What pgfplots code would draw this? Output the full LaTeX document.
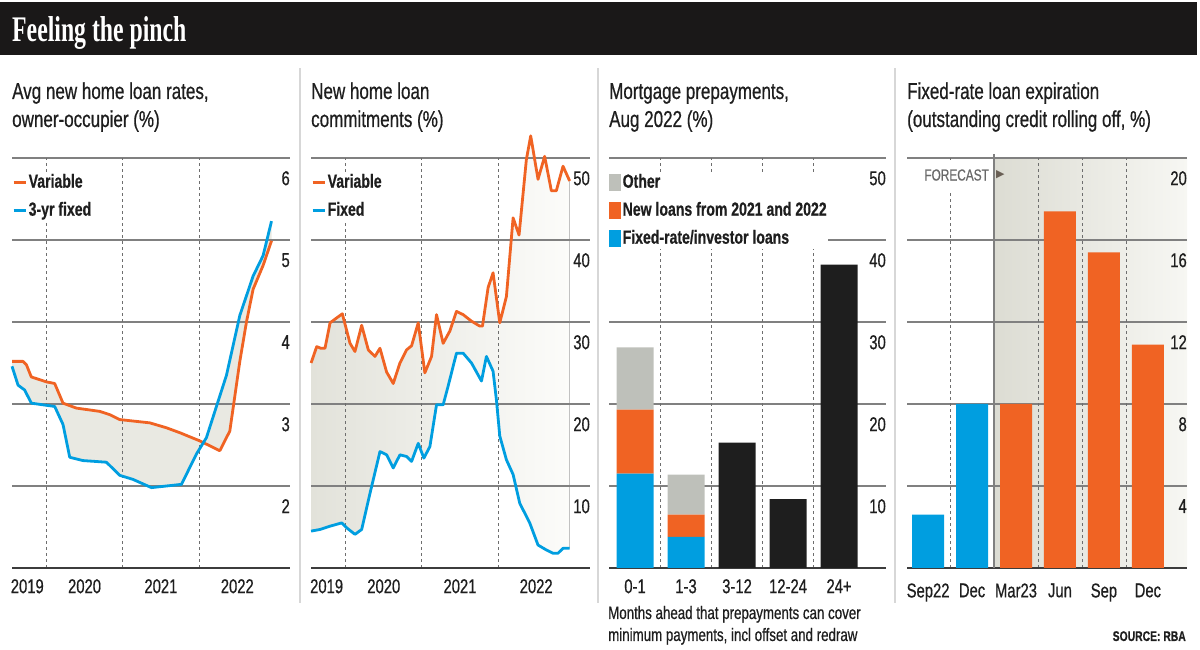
\documentclass[border=0pt]{standalone}
\usepackage{fontspec}
\setmainfont{Liberation Sans}[FakeStretch=0.74, FakeBold=0.6]
\newfontfamily\titlefont{Liberation Serif}[FakeStretch=0.66]
\newfontfamily\symbolfont{DejaVu Sans}
\usepackage{pgfplots}
\pgfplotsset{compat=1.18}
\usepgfplotslibrary{fillbetween}

\definecolor{varorange}{RGB}{240,99,35}
\definecolor{fixblue}{RGB}{0,158,224}
\definecolor{othergray}{RGB}{190,192,186}
\definecolor{barblack}{RGB}{30,30,30}
\definecolor{gridgray}{RGB}{128,128,128}
\definecolor{axisdark}{RGB}{60,60,60}
\definecolor{dashgray}{RGB}{110,110,110}
\definecolor{fillbeige}{RGB}{233,233,226}
\definecolor{fillleft}{RGB}{226,226,218}
\definecolor{fillright}{RGB}{252,252,250}
\definecolor{fcleft}{RGB}{220,220,211}
\definecolor{fcright}{RGB}{247,247,243}
\definecolor{sepgray}{RGB}{215,215,215}
\definecolor{headblack}{RGB}{26,24,24}
\definecolor{textdark}{RGB}{30,30,30}
\definecolor{fcgray}{RGB}{105,105,105}
\definecolor{fcarrow}{RGB}{105,95,85}

\newcommand\ticksize{\fontsize{20}{22}\selectfont}
\newcommand\legsize{\fontsize{19}{21}\selectfont\bfseries}
\newcommand\headsize{\fontsize{23}{28}\selectfont}

\pgfplotsset{
  panel/.style={
    scale only axis, anchor=south west, height=410pt,
    clip=false, set layers,
    axis line style={draw=none},
    tick style={draw=none},
    ymajorgrids, xmajorgrids=false,
    major grid style={gridgray, line width=2.6pt},
    /pgf/number format/assume math mode=true,
    yticklabel pos=right,
    yticklabel style={anchor=north east, inner sep=0pt, yshift=-13pt,
      font=\ticksize, text=textdark},
    xticklabel style={anchor=north, inner sep=0pt, yshift=-11pt,
      font=\ticksize, text=textdark},
    extra y tick labels={},
    extra y tick style={major grid style={axisdark, line width=2.8pt}},
    extra x tick labels={},
    extra x tick style={xmajorgrids=true,
      major grid style={dashgray, line width=0.8pt, dash pattern=on 3pt off 3pt}},
    legend cell align=left,
    legend style={at={(0,1)}, anchor=north west, yshift=-14pt,
      draw=none, fill=white, inner sep=0pt, row sep=7pt,
      font=\legsize, text=textdark,
      nodes={inner sep=1.5pt, text height=14pt, text depth=4pt}},
  },
  linelegend/.style={legend image code/.code={
      \draw[##1, line width=3pt] (0pt,0pt) -- (12pt,0pt);}},
  boxlegend/.style={legend image code/.code={
      \fill[##1] (0pt,-8pt) rectangle (12pt,9pt);}},
}

\begin{document}
\begin{tikzpicture}
\begin{scope}[x=1pt,y=1pt]
\path (0,0) rectangle (1200,650);

% header band
\fill[headblack] (0,595) rectangle (1197,648);
\node[anchor=base west, inner sep=0pt, text=white,
  font=\titlefont\bfseries\fontsize{36}{36}\selectfont] at (12,608) {Feeling the pinch};

% panel separators
\foreach \sx in {300,598,895}
  \draw[sepgray, line width=1.5pt] (\sx,47) -- (\sx,582);

% panel headings
\begin{scope}[every node/.style={anchor=base west, inner sep=0pt, text=textdark, font=\headsize}]
\node at (12,551) {Avg new home loan rates,};
\node at (12,523) {owner-occupier (\%)};
\node at (311,551) {New home loan};
\node at (311,523) {commitments (\%)};
\node at (609,551) {Mortgage prepayments,};
\node at (609,523) {Aug 2022 (\%)};
\node at (907,551) {Fixed-rate loan expiration};
\node at (907,523) {(outstanding credit rolling off, \%)};
\end{scope}

% caption and source
\node[anchor=base west, inner sep=0pt, text=textdark, font=\fontsize{18}{22}\selectfont]
  at (608,31) {Months ahead that prepayments can cover};
\node[anchor=base west, inner sep=0pt, text=textdark, font=\fontsize{18}{22}\selectfont]
  at (608,9) {minimum payments, incl offset and redraw};
\node[anchor=base east, inner sep=0pt, text=textdark, font=\fontsize{14}{16}\selectfont\bfseries]
  at (1186,9) {SOURCE: RBA};
\end{scope}

% ---- Average new home loan rates ----
\begin{axis}[panel, at={(12pt,82pt)}, width=278pt,
  xmin=2019.55, xmax=2023.19, ymin=1, ymax=6,
  ytick={2,3,4,5,6}, extra y ticks={1},
  xtick={2019.75,2020.5,2021.5,2022.5}, xticklabels={2019,2020,2021,2022},
  extra x ticks={2020,2021,2022}]
\addplot[name path=var1, varorange, line width=2.8pt, line join=round, linelegend] coordinates {
(2019.550,3.52)(2019.694,3.52)(2019.738,3.48)(2019.803,3.33)(2020.000,3.27)(2020.109,3.25)
(2020.218,3.01)(2020.393,2.95)(2020.699,2.91)(2020.830,2.87)(2020.961,2.81)(2021.354,2.77)
(2021.572,2.71)(2021.747,2.65)(2022.009,2.55)(2022.271,2.43)(2022.402,2.67)(2022.533,3.52)
(2022.620,4.00)(2022.707,4.40)(2022.838,4.69)(2022.948,4.99)};
\addlegendentry{Variable}
\addplot[name path=fix1, fixblue, line width=2.8pt, line join=round, linelegend] coordinates {
(2019.550,3.46)(2019.629,3.23)(2019.716,3.17)(2019.803,3.01)(2020.109,2.97)(2020.218,2.75)
(2020.306,2.35)(2020.480,2.31)(2020.786,2.29)(2020.961,2.13)(2021.135,2.08)(2021.376,1.98)
(2021.572,2.00)(2021.769,2.02)(2021.965,2.39)(2022.096,2.59)(2022.358,3.35)(2022.533,4.08)
(2022.707,4.56)(2022.838,4.81)(2022.948,5.23)};
\addlegendentry{3-yr fixed}
\addplot[fill=fillbeige, draw=none] fill between[of=var1 and fix1, on layer=axis background];
\end{axis}

% ---- New home loan commitments ----
\begin{axis}[panel, at={(311pt,82pt)}, width=279pt,
  xmin=2019.545, xmax=2023.206, ymin=0, ymax=50,
  ytick={10,20,30,40,50}, extra y ticks={0},
  xtick={2019.75,2020.5,2021.5,2022.5}, xticklabels={2019,2020,2021,2022},
  extra x ticks={2020,2021,2022}]
\addplot[name path=var2, varorange, line width=2.8pt, line join=round, linelegend] coordinates {
(2019.546,25.0)(2019.620,27.0)(2019.672,26.8)(2019.729,26.8)(2019.795,29.9)(2019.882,30.5)
(2019.956,31.0)(2020.057,27.4)(2020.122,26.4)(2020.210,29.6)(2020.297,26.6)(2020.384,25.8)
(2020.450,26.8)(2020.537,23.9)(2020.624,22.5)(2020.712,25.0)(2020.799,26.6)(2020.865,27.1)
(2020.952,29.9)(2021.039,23.8)(2021.127,25.8)(2021.192,30.9)(2021.279,27.4)(2021.367,28.9)
(2021.454,31.3)(2021.541,30.9)(2021.651,30.1)(2021.760,29.5)(2021.795,29.5)(2021.869,34.2)
(2021.934,36.0)(2022.022,29.9)(2022.109,33.1)(2022.197,42.7)(2022.275,40.6)(2022.371,49.8)
(2022.428,52.7)(2022.524,47.4)(2022.611,50.2)(2022.699,46.0)(2022.764,46.0)(2022.852,49.0)
(2022.939,47.2)};
\addlegendentry{Variable}
\addplot[name path=fix2, fixblue, line width=2.8pt, line join=round, linelegend] coordinates {
(2019.546,4.5)(2019.664,4.7)(2019.795,5.1)(2019.948,5.5)(2020.013,4.9)(2020.122,4.1)
(2020.210,4.7)(2020.319,9.1)(2020.450,14.2)(2020.537,13.8)(2020.624,12.2)(2020.712,13.8)
(2020.799,13.6)(2020.865,13.0)(2020.952,15.2)(2021.026,13.4)(2021.105,14.8)(2021.192,19.9)
(2021.279,19.9)(2021.345,22.2)(2021.454,26.2)(2021.541,26.2)(2021.651,25.0)(2021.782,22.8)
(2021.847,25.8)(2021.934,24.0)(2021.978,20.5)(2022.022,16.1)(2022.109,13.2)(2022.197,11.4)
(2022.284,7.9)(2022.415,5.5)(2022.524,2.8)(2022.633,2.2)(2022.721,1.8)(2022.786,1.8)
(2022.852,2.4)(2022.939,2.4)};
\addlegendentry{Fixed}
\addplot[left color=fillleft, right color=fillright, draw=none]
  fill between[of=var2 and fix2, on layer=axis background];
\end{axis}

% ---- Mortgage prepayments ----
\begin{axis}[panel, at={(609pt,82pt)}, width=277pt,
  xmin=-0.51, xmax=4.92, ymin=0, ymax=50,
  ytick={10,20,30,40,50}, extra y ticks={0},
  xtick={0,1,2,3,4}, xticklabels={0-1,1-3,3-12,12-24,24+},
  extra x ticks={0.5,1.5,2.5,3.5},
  ybar stacked, bar width=37pt, reverse legend]
\addplot[fill=fixblue, draw=none, boxlegend] coordinates {(0,11.5)(1,3.8)(2,0)(3,0)(4,0)};
\addlegendentry{Fixed-rate/investor loans}
\addplot[fill=varorange, draw=none, boxlegend] coordinates {(0,7.8)(1,2.7)(2,0)(3,0)(4,0)};
\addlegendentry{New loans from 2021 and 2022}
\addplot[fill=othergray, draw=none, boxlegend] coordinates {(0,7.6)(1,4.9)(2,0)(3,0)(4,0)};
\addlegendentry{Other}
\addplot[fill=barblack, draw=none, forget plot] coordinates {(0,0)(1,0)(2,15.3)(3,8.4)(4,37.0)};
\end{axis}

% ---- Fixed-rate loan expiration ----
\begin{axis}[panel, at={(907pt,82pt)}, width=280pt,
  xmin=-0.48, xmax=5.89, ymin=0, ymax=20,
  ytick={4,8,12,16,20}, extra y ticks={0},
  xtick={0,1,2,3,4,5}, xticklabels={Sep22,Dec,Mar23,Jun,Sep,Dec},
  extra x ticks={0.5,2.5,3.5,4.5},
  ybar, bar width=32pt]
\begin{pgfonlayer}{axis background}
\fill[left color=fcleft, right color=fcright] (axis cs:1.5,0) rectangle (axis cs:5.89,20);
\end{pgfonlayer}
\addplot[fill=fixblue, draw=none, bar shift=0pt] coordinates {(0,2.6)(1,8.0)};
\addplot[fill=varorange, draw=none, bar shift=0pt] coordinates {(2,8.0)(3,17.4)(4,15.4)(5,10.9)};
\draw[gridgray, line width=1.6pt] (axis cs:1.5,0) -- (axis cs:1.5,20.2);
\node[anchor=east, fill=white, inner xsep=3pt, inner ysep=0pt, minimum height=30pt,
  text=fcgray, font=\fontsize{16}{18}\selectfont] at ([xshift=-2pt]axis cs:1.5,19.17) {FORECAST};
\node[anchor=west, inner sep=0pt, text=fcarrow, font=\symbolfont\fontsize{11}{12}\selectfont]
  at ([xshift=2pt]axis cs:1.5,19.17) {▶};
\end{axis}

\end{tikzpicture}
\end{document}
